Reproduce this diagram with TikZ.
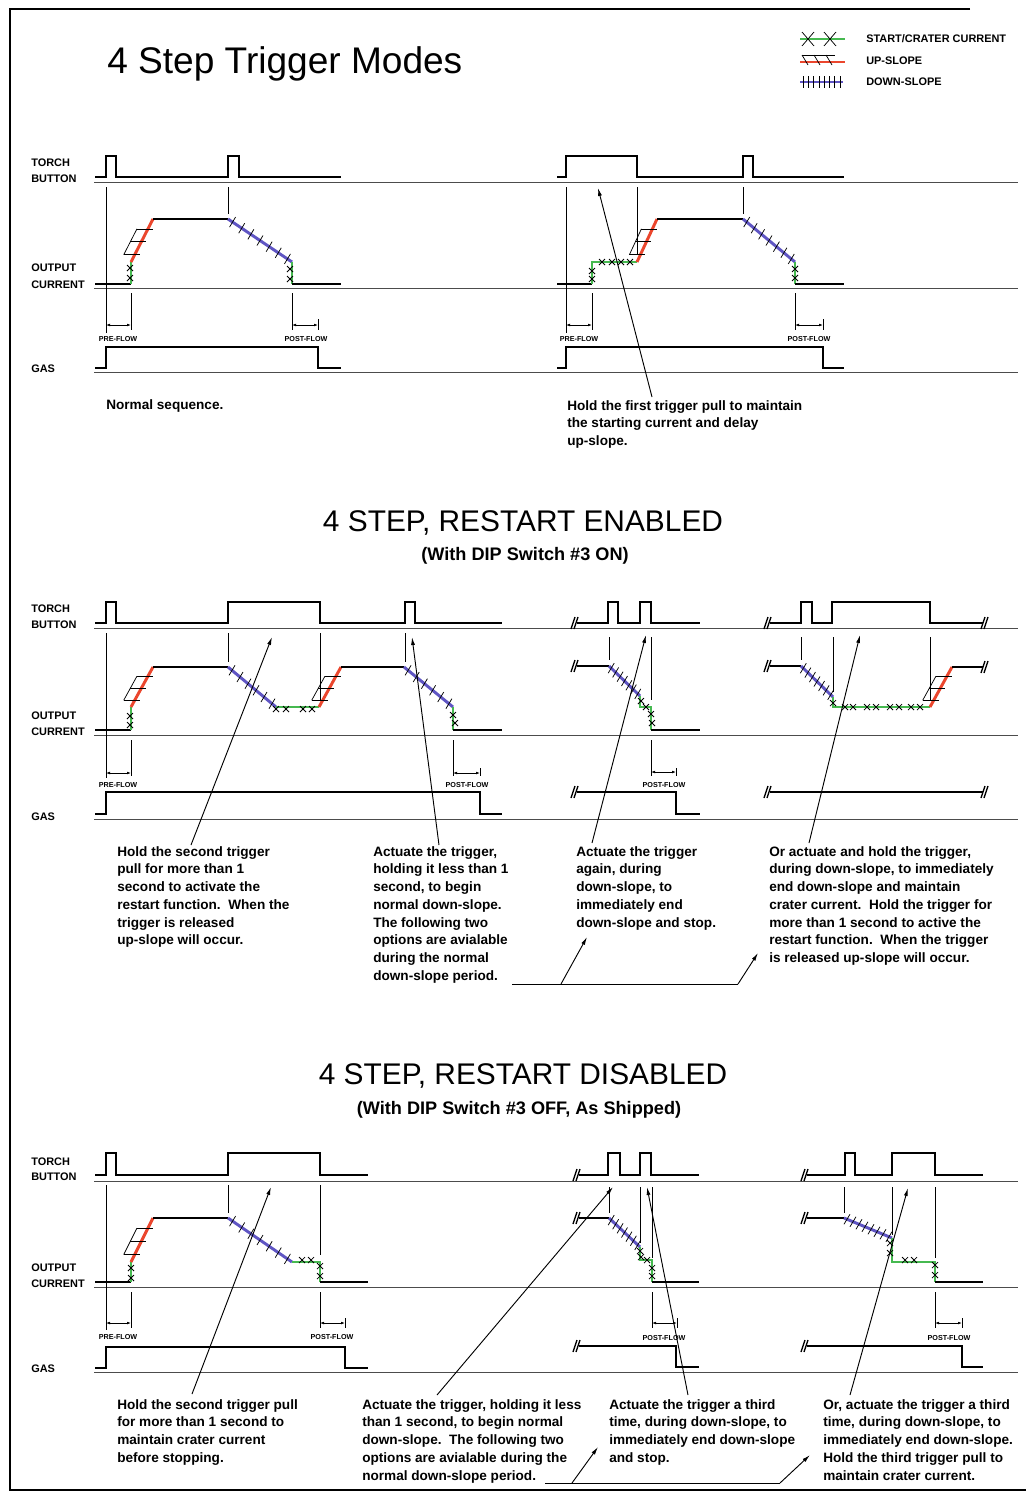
\documentclass[tikz,border=0pt]{standalone}
\usepackage{fontspec}
\setmainfont{Liberation Sans}
\usetikzlibrary{calc,arrows.meta}
\definecolor{crgreen}{RGB}{70,185,80}
\definecolor{upred}{RGB}{235,70,45}
\definecolor{dnblue}{RGB}{95,85,195}
\newcommand\notefont{\bfseries\fontsize{10.2}{13.3}\selectfont}
\newcommand\UpS[2]{%
  \draw[upl] (#1) -- (#2);
  \foreach \f in {0.17,0.47,0.77} \draw[hatch] ($(#1)!\f!(#2)+(-11,0)$) -- ++(16,0);
  \draw[hatch] ($(#1)!0.17!(#2)+(-11,0)$) -- ($(#1)!0.77!(#2)+(-11,0)$);
}
\newcommand\DnS[3]{%
  \draw[dnl] (#1) -- (#2);
  \foreach \i in {1,...,#3} \draw[hatch] ($(#1)!{(\i-0.5)/#3}!(#2)$) +(-3,5) -- +(3,-5);
}
\newcommand\Xm[1]{\draw[hatch] (#1) +(-3,-3) -- +(3,3) +(-3,3) -- +(3,-3);}
\newcommand\Brk[1]{\draw[line width=1pt] (#1) +(-4,6) -- +(0,-6) +(-1,6) -- +(3,-6);}
\newcommand\Dim[3]{\draw[dimarr] (#1,#3) -- (#2,#3);}
\begin{document}
\begin{tikzpicture}[x=0.75pt,y=-0.75pt,
  sig/.style={line width=1.6pt, line join=miter, black},
  gridl/.style={line width=0.7pt, black!70},
  mk/.style={line width=0.6pt, black},
  upl/.style={line width=2.2pt, upred},
  dnl/.style={line width=2.2pt, dnblue},
  crl/.style={line width=2.2pt, crgreen},
  hatch/.style={line width=0.55pt, black},
  note/.style={-{Latex[length=6pt,width=3pt]}, line width=0.7pt},
  dimarr/.style={{Latex[length=3pt,width=2pt]}-{Latex[length=3pt,width=2pt]}, line width=0.5pt},
  lbl/.style={font=\bfseries\fontsize{8.2}{10}\selectfont, anchor=west, inner sep=0},
  flow/.style={font=\bfseries\fontsize{5.4}{6}\selectfont, inner sep=0},
  txt/.style={font=\notefont, align=left, anchor=north west, inner sep=0},
  head/.style={font=\fontsize{22.4}{26}\selectfont, inner sep=0},
  sub/.style={font=\bfseries\fontsize{13.6}{16}\selectfont, inner sep=0},
  leg/.style={font=\bfseries\fontsize{8.2}{10}\selectfont, anchor=west, inner sep=0}]
\useasboundingbox (0,0) rectangle (1026,1493);
\fill[white] (0,0) rectangle (1026,1493);
% frame
\draw[line width=2.2pt] (970,9) -- (10,9) -- (10,1490) -- (1026,1490);

% title and legend
\node[font=\fontsize{27.8}{32}\selectfont, anchor=west, inner sep=0] (title) at (107,64) {4 Step Trigger Modes};
\draw[crl] (800,39) -- (845,39);
\draw[hatch] (808,39) +(-6,-7) -- +(6,7) +(-6,7) -- +(6,-7);
\draw[hatch] (830,39) +(-6,-7) -- +(6,7) +(-6,7) -- +(6,-7);
\draw[upl] (800,62) -- (845,62);
\draw[hatch] (802,55) -- (835,55);
\foreach \x in {802,814,826} \draw[hatch] (\x,55) -- (\x+6,65);
\draw[dnl] (800,82) -- (843,82);
\foreach \x in {803,808.3,...,841} \draw[hatch] (\x,76) -- (\x,88);
\node[leg] (lg1) at (866,39) {START/CRATER CURRENT};
\node[leg] (lg2) at (866,61) {UP-SLOPE};
\node[leg] (lg3) at (866,82) {DOWN-SLOPE};

% ================= SECTION 1 =================
\node[lbl] (s1t1) at (31,163) {TORCH};
\node[lbl] (s1t2) at (31,179) {BUTTON};
\node[lbl] (s1c1) at (31,268) {OUTPUT};
\node[lbl] (s1c2) at (31,285) {CURRENT};
\node[lbl] (s1g) at (31,369) {GAS};
\draw[gridl] (94,182) -- (1018,182);
\draw[gridl] (94,288) -- (1018,288);
\draw[gridl] (94,372) -- (1018,372);
% left panel
\draw[sig] (95,177) -- (106,177) -- (106,156) -- (116,156) -- (116,177) -- (228,177) -- (228,156) -- (239,156) -- (239,177) -- (341,177);
\draw[sig] (95,284) -- (131,284);
\draw[crl] (131,284) -- (131,262);
\UpS{131,262}{153,219}
\draw[sig] (153,219) -- (228,219);
\DnS{228,219}{292,262}{7}
\draw[crl] (292,262) -- (292,284);
\draw[sig] (292,284) -- (341,284);
\Xm{130,268}\Xm{130,278}\Xm{290,269}\Xm{290,279}
\draw[sig] (95,368) -- (106,368) -- (106,347) -- (318,347) -- (318,368) -- (341,368);
\draw[mk] (106,187) -- (106,333);
\draw[mk] (131,293) -- (131,330);
\draw[mk] (228,187) -- (228,214);
\draw[mk] (292,293) -- (292,330);
\draw[mk] (318,319) -- (318,330);
\Dim{106}{131}{325}\Dim{292}{318}{325}
\node[flow] (pf1) at (118,339) {PRE-FLOW};
\node[flow] (po1) at (306,339) {POST-FLOW};
% right panel
\draw[sig] (557,177) -- (566,177) -- (566,156) -- (637,156) -- (637,177) -- (743,177) -- (743,156) -- (753,156) -- (753,177) -- (844,177);
\draw[sig] (557,284) -- (592,284);
\draw[crl] (592,284) -- (592,262) -- (637,262);
\UpS{637,262}{657,219}
\draw[sig] (657,219) -- (743,219);
\DnS{743,219}{795,262}{7}
\draw[crl] (795,262) -- (795,284);
\draw[sig] (795,284) -- (844,284);
\Xm{592,271}\Xm{592,279}\Xm{602,262}\Xm{612,262}\Xm{621,262}\Xm{630,262}\Xm{795,269}\Xm{795,278}
\draw[sig] (557,368) -- (566,368) -- (566,347) -- (823,347) -- (823,368) -- (844,368);
\draw[mk] (566,187) -- (566,333);
\draw[mk] (592,293) -- (592,330);
\draw[mk] (637,187) -- (637,255);
\draw[mk] (743,187) -- (743,214);
\draw[mk] (795,293) -- (795,330);
\draw[mk] (823,319) -- (823,330);
\Dim{566}{592}{325}\Dim{795}{823}{325}
\node[flow] (pf2) at (579,339) {PRE-FLOW};
\node[flow] (po2) at (809,339) {POST-FLOW};
% texts
\node[font=\notefont, anchor=west, inner sep=0] (n1) at (106,406) {Normal sequence.};
\node[txt] (n2) at (567,400) {Hold the first trigger pull to maintain\\the starting current and delay\\up-slope.};
\coordinate (a1s) at (652,397);
\coordinate (a1e) at (598,188);
\draw[note] (a1s) -- (a1e);

% ================= SECTION 2 =================
\node[head] (h2) at (523,523) {4 STEP, RESTART ENABLED};
\node[sub] (h2s) at (525,556) {(With DIP Switch \#3 ON)};
\node[lbl] (s2t1) at (31,609) {TORCH};
\node[lbl] (s2t2) at (31,625) {BUTTON};
\node[lbl] (s2c1) at (31,716) {OUTPUT};
\node[lbl] (s2c2) at (31,732) {CURRENT};
\node[lbl] (s2g) at (31,817) {GAS};
\draw[gridl] (94,628) -- (1018,628);
\draw[gridl] (94,735) -- (1018,735);
\draw[gridl] (94,819) -- (1018,819);
% left panel
\draw[sig] (95,623) -- (106,623) -- (106,602) -- (116,602) -- (116,623) -- (228,623) -- (228,602) -- (320,602) -- (320,623) -- (405,623) -- (405,602) -- (415,602) -- (415,623) -- (502,623);
\draw[sig] (95,730) -- (131,730);
\draw[crl] (131,730) -- (131,707);
\UpS{131,707}{153,667}
\draw[sig] (153,667) -- (228,667);
\DnS{228,667}{276,707}{6}
\draw[crl] (276,707) -- (319,707);
\UpS{319,707}{341,667}
\draw[sig] (341,667) -- (404,667);
\DnS{404,667}{453,707}{6}
\draw[crl] (453,707) -- (453,730);
\draw[sig] (453,730) -- (502,730);
\Xm{130,716}\Xm{130,725}\Xm{276,709}\Xm{286,709}\Xm{303,709}\Xm{312,709}\Xm{453,715}\Xm{455,723}
\draw[sig] (95,814) -- (106,814) -- (106,792) -- (480,792) -- (480,814) -- (502,814);
\draw[mk] (106,633) -- (106,778);
\draw[mk] (131,740) -- (131,776);
\draw[mk] (228,633) -- (228,662);
\draw[mk] (320,633) -- (320,700);
\draw[mk] (405,633) -- (405,662);
\draw[mk] (453,740) -- (453,776);
\draw[mk] (480,768) -- (480,776);
\Dim{106}{131}{773}\Dim{453}{480}{773}
\node[flow] (pf3) at (118,785) {PRE-FLOW};
\node[flow] (po3) at (467,785) {POST-FLOW};
% middle panel
\Brk{575,623}\Brk{575,666}\Brk{575,792}
\draw[sig] (577,623) -- (608,623) -- (608,602) -- (618,602) -- (618,623) -- (640,623) -- (640,602) -- (651,602) -- (651,623) -- (700,623);
\draw[sig] (577,666) -- (609,666);
\DnS{609,666}{640,696}{7}
\draw[crl] (640,696) -- (640,707) -- (651,707) -- (651,730);
\draw[sig] (651,730) -- (700,730);
\Xm{641,701}\Xm{646,707}\Xm{651,714}\Xm{652,723}
\draw[sig] (577,792) -- (676,792) -- (676,814) -- (700,814);
\draw[mk] (609,637) -- (609,660);
\draw[mk] (651,637) -- (651,700);
\draw[mk] (651,740) -- (651,776);
\draw[mk] (676,768) -- (676,776);
\Dim{651}{676}{772}
\node[flow] (po4) at (664,785) {POST-FLOW};
% right panel
\Brk{768,623}\Brk{768,666}\Brk{768,792}
\Brk{985,623}\Brk{985,667}\Brk{985,792}
\draw[sig] (770,623) -- (801,623) -- (801,602) -- (812,602) -- (812,623) -- (832,623) -- (832,602) -- (930,602) -- (930,623) -- (983,623);
\draw[sig] (770,666) -- (801,666);
\DnS{801,666}{833,697}{7}
\draw[crl] (833,697) -- (833,707) -- (930,707);
\UpS{930,707}{952,667}
\draw[sig] (952,667) -- (983,667);
\Xm{833,703}\Xm{845,707}\Xm{853,707}\Xm{867,707}\Xm{876,707}\Xm{890,707}\Xm{899,707}\Xm{911,707}\Xm{920,707}
\draw[sig] (770,792) -- (983,792);
\draw[mk] (801,637) -- (801,660);
\draw[mk] (833,637) -- (833,692);
\draw[mk] (930,637) -- (930,700);
% texts
\node[txt] (b21) at (117,846) {Hold the second trigger\\pull for more than 1\\second to activate the\\restart function.\ \ When the\\trigger is released\\up-slope will occur.};
\node[txt] (b22) at (373,846) {Actuate the trigger,\\holding it less than 1\\second, to begin\\normal down-slope.\\The following two\\options are avialable\\during the normal\\down-slope period.};
\node[txt] (b23) at (576,846) {Actuate the trigger\\again, during\\down-slope, to\\immediately end\\down-slope and stop.};
\node[txt] (b24) at (769,846) {Or actuate and hold the trigger,\\during down-slope, to immediately\\end down-slope and maintain\\crater current.\ \ Hold the trigger for\\more than 1 second to active the\\restart function.\ \ When the trigger\\is released up-slope will occur.};
\coordinate (a21s) at (191,845); \coordinate (a21e) at (272,637);
\coordinate (a22s) at (439,845); \coordinate (a22e) at (412,637);
\coordinate (a23s) at (592,843); \coordinate (a23e) at (646,635);
\coordinate (a24s) at (809,843); \coordinate (a24e) at (860,635);
\draw[note] (a21s) -- (a21e);
\draw[note] (a22s) -- (a22e);
\draw[note] (a23s) -- (a23e);
\draw[note] (a24s) -- (a24e);
\coordinate (c2a) at (512,984); \coordinate (c2b) at (561,984); \coordinate (c2c) at (738,984);
\coordinate (c2d) at (587,937); \coordinate (c2e) at (758,953);
\draw[line width=0.7pt] (c2a) -- (c2c);
\draw[note] (c2b) -- (c2d);
\draw[note] (c2c) -- (c2e);

% ================= SECTION 3 =================
\node[head] (h3) at (523,1076) {4 STEP, RESTART DISABLED};
\node[sub] (h3s) at (519,1110) {(With DIP Switch \#3 OFF, As Shipped)};
\node[lbl] (s3t1) at (31,1162) {TORCH};
\node[lbl] (s3t2) at (31,1177) {BUTTON};
\node[lbl] (s3c1) at (31,1268) {OUTPUT};
\node[lbl] (s3c2) at (31,1284) {CURRENT};
\node[lbl] (s3g) at (31,1369) {GAS};
\draw[gridl] (94,1181) -- (1018,1181);
\draw[gridl] (94,1287) -- (1018,1287);
\draw[gridl] (94,1372) -- (1018,1372);
% left panel
\draw[sig] (95,1175) -- (106,1175) -- (106,1153) -- (116,1153) -- (116,1175) -- (228,1175) -- (228,1153) -- (320,1153) -- (320,1175) -- (368,1175);
\draw[sig] (95,1282) -- (131,1282);
\draw[crl] (131,1282) -- (131,1262);
\UpS{131,1262}{153,1218}
\draw[sig] (153,1218) -- (228,1218);
\DnS{228,1218}{292,1262}{7}
\draw[crl] (292,1262) -- (320,1262) -- (320,1282);
\draw[sig] (320,1282) -- (368,1282);
\Xm{131,1268}\Xm{131,1278}\Xm{302,1260}\Xm{311,1260}\Xm{320,1266}\Xm{320,1276}
\draw[sig] (95,1368) -- (106,1368) -- (106,1347) -- (345,1347) -- (345,1368) -- (368,1368);
\draw[mk] (106,1185) -- (106,1330);
\draw[mk] (131,1292) -- (131,1328);
\draw[mk] (228,1185) -- (228,1213);
\draw[mk] (320,1185) -- (320,1255);
\draw[mk] (320,1292) -- (320,1328);
\draw[mk] (345,1318) -- (345,1328);
\Dim{106}{131}{1323}\Dim{320}{345}{1323}
\node[flow] (pf5) at (118,1337) {PRE-FLOW};
\node[flow] (po5) at (332,1337) {POST-FLOW};
% middle panel
\Brk{577,1175}\Brk{577,1218}\Brk{577,1346}
\draw[sig] (579,1175) -- (608,1175) -- (608,1153) -- (620,1153) -- (620,1175) -- (640,1175) -- (640,1153) -- (651,1153) -- (651,1175) -- (699,1175);
\draw[sig] (579,1218) -- (609,1218);
\DnS{609,1218}{640,1247}{7}
\draw[crl] (640,1247) -- (640,1260) -- (652,1260) -- (652,1282);
\draw[sig] (652,1282) -- (699,1282);
\Xm{640,1251}\Xm{641,1257}\Xm{647,1260}\Xm{652,1268}\Xm{652,1276}
\draw[sig] (579,1346) -- (676,1346) -- (676,1367) -- (699,1367);
\draw[mk] (609,1187) -- (609,1213);
\draw[mk] (640,1187) -- (640,1243);
\draw[mk] (652,1187) -- (652,1258);
\draw[mk] (652,1292) -- (652,1328);
\draw[mk] (677,1318) -- (677,1328);
\Dim{652}{677}{1323}
\node[flow] (po6) at (664,1338) {POST-FLOW};
% right panel
\Brk{805,1175}\Brk{805,1218}\Brk{805,1346}
\draw[sig] (807,1175) -- (845,1175) -- (845,1153) -- (855,1153) -- (855,1175) -- (892,1175) -- (892,1153) -- (935,1153) -- (935,1175) -- (983,1175);
\draw[sig] (807,1218) -- (844,1218);
\DnS{844,1218}{892,1238}{8}
\draw[crl] (892,1238) -- (892,1262) -- (935,1262) -- (935,1282);
\draw[sig] (935,1282) -- (983,1282);
\Xm{890,1243}\Xm{890,1253}\Xm{905,1260}\Xm{914,1260}\Xm{935,1265}\Xm{935,1275}
\draw[sig] (807,1346) -- (962,1346) -- (962,1367) -- (983,1367);
\draw[mk] (844,1187) -- (844,1213);
\draw[mk] (892,1187) -- (892,1235);
\draw[mk] (935,1187) -- (935,1258);
\draw[mk] (935,1292) -- (935,1328);
\draw[mk] (962,1318) -- (962,1328);
\Dim{935}{962}{1323}
\node[flow] (po7) at (949,1338) {POST-FLOW};
% texts
\node[txt] (b31) at (117,1399) {Hold the second trigger pull\\for more than 1 second to\\maintain crater current\\before stopping.};
\node[txt] (b32) at (362,1399) {Actuate the trigger, holding it less\\than 1 second, to begin normal\\down-slope.\ \ The following two\\options are avialable during the\\normal down-slope period.};
\node[txt] (b33) at (609,1399) {Actuate the trigger a third\\time, during down-slope, to\\immediately end down-slope\\and stop.};
\node[txt] (b34) at (823,1399) {Or, actuate the trigger a third\\time, during down-slope, to\\immediately end down-slope.\\Hold the third trigger pull to\\maintain crater current.};
\coordinate (a31s) at (192,1394); \coordinate (a31e) at (271,1187);
\coordinate (a32s) at (437,1395); \coordinate (a32e) at (613,1187);
\coordinate (a33s) at (688,1395); \coordinate (a33e) at (647,1187);
\coordinate (a34s) at (850,1395); \coordinate (a34e) at (908,1188);
\draw[note] (a31s) -- (a31e);
\draw[note] (a32s) -- (a32e);
\draw[note] (a33s) -- (a33e);
\draw[note] (a34s) -- (a34e);
\coordinate (c3a) at (545,1483); \coordinate (c3b) at (572,1483); \coordinate (c3c) at (780,1483);
\coordinate (c3d) at (598,1447); \coordinate (c3e) at (810,1455);
\draw[line width=0.7pt] (c3a) -- (c3c);
\draw[note] (c3b) -- (c3d);
\draw[note] (c3c) -- (c3e);
\end{tikzpicture}
\end{document}
